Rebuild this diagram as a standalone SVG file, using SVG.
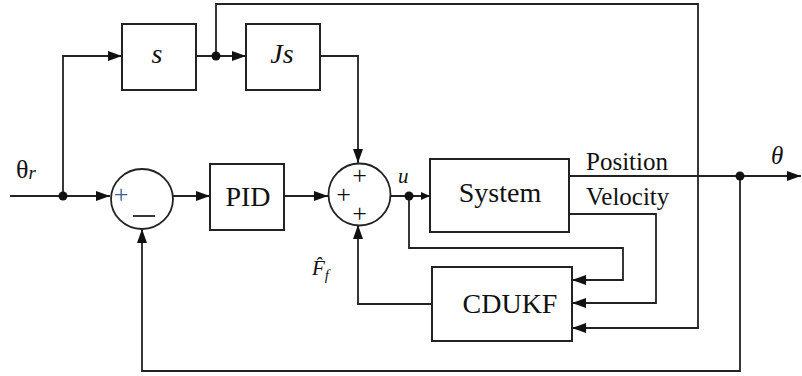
<svg xmlns="http://www.w3.org/2000/svg" width="802" height="376" viewBox="0 0 802 376">
  <defs>
    <marker id="arr" viewBox="0 0 14 10" refX="14" refY="5" markerWidth="14" markerHeight="10" markerUnits="userSpaceOnUse" orient="auto">
      <path d="M0,0 L14,5 L0,10 Z" fill="#111"/>
    </marker>
    <marker id="arrS" viewBox="0 0 9 8" refX="9" refY="4" markerWidth="9" markerHeight="8" markerUnits="userSpaceOnUse" orient="auto">
      <path d="M0,0 L9,4 L0,8 Z" fill="#111"/>
    </marker>
    <style>
      .blk { fill: #fff; stroke: #222; stroke-width: 2; }
      .sum { fill: #fff; stroke: #222; stroke-width: 1.8; }
      .wire { fill: none; stroke: #222; stroke-width: 1.8; }
      .dot { fill: #111; }
      text { font-family: "Liberation Serif", "Times New Roman", "DejaVu Serif", serif; fill: #111; }
    </style>
  </defs>
  <rect width="802" height="376" fill="#fff"/>

  <!-- connectors -->
  <g id="connectors">
    <!-- reference input and feed-forward branch -->
    <path class="wire" d="M10,196 H110" marker-end="url(#arr)"/>
    <path class="wire" d="M63,196 V56 H122" marker-end="url(#arr)"/>
    <path class="wire" d="M196,56 H246" marker-end="url(#arr)"/>
    <path class="wire" d="M320,56 H358 V163" marker-end="url(#arr)"/>
    <!-- velocity reference to the filter -->
    <path class="wire" d="M216,56 V4 H698 V328 H572" marker-end="url(#arr)"/>
    <!-- forward path -->
    <path class="wire" d="M173,196 H210" marker-end="url(#arr)"/>
    <path class="wire" d="M284,196 H328" marker-end="url(#arr)"/>
    <path class="wire" d="M391,196 H430" marker-end="url(#arrS)"/>
    <!-- plant outputs -->
    <path class="wire" d="M569,176 H801" marker-end="url(#arr)"/>
    <path class="wire" d="M569,214 H656 V303 H572" marker-end="url(#arr)"/>
    <path class="wire" d="M409,196 V248 H623 V280 H572" marker-end="url(#arr)"/>
    <!-- friction estimate compensation -->
    <path class="wire" d="M432,304 H358 V225" marker-end="url(#arr)"/>
    <!-- position feedback -->
    <path class="wire" d="M740,176 V371 H142 V229" marker-end="url(#arr)"/>
    <!-- junctions -->
    <circle class="dot" cx="63" cy="196" r="4.5"/>
    <circle class="dot" cx="216" cy="56" r="4.5"/>
    <circle class="dot" cx="409" cy="196" r="4.5"/>
    <circle class="dot" cx="740" cy="176" r="4.5"/>
  </g>

  <g id="sum1">
    <ellipse class="sum" cx="142" cy="199" rx="31" ry="30"/>
    <text x="121" y="203" font-size="26" text-anchor="middle" fill="#3d5f95" style="fill:#3d5f95">+</text>
    <path d="M133,216 H155" stroke="#222" stroke-width="1.8"/>
  </g>

  <g id="s">
    <rect class="blk" x="122" y="24" width="74" height="66"/>
    <text x="157" y="63" font-size="28" font-style="italic" text-anchor="middle">s</text>
  </g>

  <g id="Js">
    <rect class="blk" x="246" y="24" width="74" height="66"/>
    <text x="282" y="63" font-size="28" font-style="italic" text-anchor="middle">Js</text>
  </g>

  <g id="PID">
    <rect class="blk" x="210" y="164" width="74" height="66"/>
    <text x="248" y="206" font-size="28" text-anchor="middle">PID</text>
  </g>

  <g id="sum2">
    <circle class="sum" cx="359.5" cy="194.5" r="31"/>
    <text x="359.5" y="184" font-size="26" text-anchor="middle">+</text>
    <text x="343.5" y="203" font-size="26" text-anchor="middle">+</text>
    <text x="359.5" y="222" font-size="26" text-anchor="middle">+</text>
  </g>

  <g id="System">
    <rect class="blk" x="430" y="159" width="139" height="73"/>
    <text x="500" y="202" font-size="28" text-anchor="middle">System</text>
  </g>

  <g id="CDUKF">
    <rect class="blk" x="432" y="267" width="140" height="74"/>
    <text x="510" y="313" font-size="28" text-anchor="middle">CDUKF</text>
  </g>

  <g id="labels">
    <text x="16" y="178" font-size="26">θ<tspan font-style="italic" font-size="19" dy="1">r</tspan></text>
    <text x="398" y="183" font-size="21" font-style="italic">u</text>
    <text x="586" y="170" font-size="25">Position</text>
    <text x="586" y="205" font-size="25">Velocity</text>
    <text x="771" y="164" font-size="25" font-style="italic">θ</text>
    <text x="312" y="275" font-size="21" font-style="italic">F̂<tspan font-size="15" dy="5">f</tspan></text>
  </g>
</svg>
